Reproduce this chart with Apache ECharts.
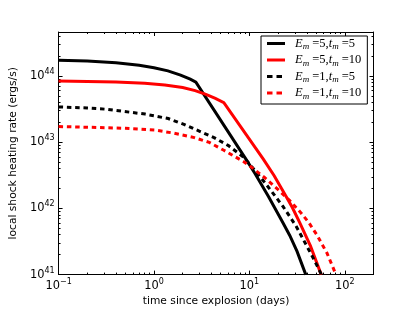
<!DOCTYPE html>
<html>
<head>
<meta charset="utf-8">
<script src="https://cdn.jsdelivr.net/npm/echarts@6/dist/echarts.min.js"></script>
<style>
html,body{margin:0;padding:0;background:#fff;}
#chart{width:415px;height:312px;}
</style>
</head>
<body>
<div id="chart"></div>
<script>
// ---- data (time in days, rate in ergs/s) ----
const seriesNames = ['Em5_tm5', 'Em5_tm10', 'Em1_tm5', 'Em1_tm10'];
const legendParts = [['5', '5'], ['5', '10'], ['1', '5'], ['1', '10']];

const blackSolidT = [0.1, 0.2, 0.4, 0.7, 1.0, 1.4, 1.9, 2.4, 2.75, 9.38, 11.45, 15.85, 22.4, 26.5, 31.6, 39.0];
const blackSolidL = [1.72e44, 1.675e44, 1.58e44, 1.45e44, 1.33e44, 1.19e44, 1.03e44, 8.93e43, 8.07e43,
                     5.30e42, 3.36e42, 1.51e42, 6.13e41, 3.90e41, 2.24e41, 1e41];

const redSolidT = [0.1, 0.4, 0.8, 1.3, 2.0, 2.7, 3.5, 4.4, 5.4, 13.94, 18.2, 24.2, 28.2, 33.6, 43.65, 56.6];
const redSolidL = [8.36e43, 8.09e43, 7.73e43, 7.28e43, 6.68e43, 6.0e43, 5.25e43, 4.57e43, 3.95e43,
                   5.60e42, 3.11e42, 1.52e42, 1.03e42, 6.13e41, 2.72e41, 1e41];

const blackDashT = [0.1, 0.2, 0.313, 0.808, 1.41, 2.09, 4.26, 6.03, 8.67, 10.24, 15.1, 22.4, 30.7, 39.6, 47.0, 57.0];
const blackDashL = [3.40e43, 3.28e43, 3.14e43, 2.65e43, 2.27e43, 1.84e43, 1.17e43, 8.87e42, 5.93e42,
                    4.52e42, 2.28e42, 1.08e42, 5.48e41, 2.77e41, 1.74e41, 1e41];

const redDashT = [0.1, 0.313, 0.5, 1.024, 1.6, 2.65, 3.8, 5.4, 8.67, 11.0, 14.5, 19.9, 26.5, 34.6, 42.2, 51.4, 65.0, 80.8];
const redDashL = [1.72e43, 1.65e43, 1.62e43, 1.52e43, 1.37e43, 1.17e43, 9.9e42, 7.53e42, 5.1e42, 3.98e42,
                  2.90e42, 1.93e42, 1.31e42, 8.62e41, 6.03e41, 3.90e41, 2.12e41, 1e41];

const xMajor = [0.1, 1, 10, 100];
const xMinor = [0.2,0.3,0.4,0.5,0.6,0.7,0.8,0.9, 2,3,4,5,6,7,8,9, 20,30,40,50,60,70,80,90];
const yMajor = [1e41, 1e42, 1e43, 1e44];
const yMinor = [2e41,3e41,4e41,5e41,6e41,7e41,8e41,9e41, 2e42,3e42,4e42,5e42,6e42,7e42,8e42,9e42,
                2e43,3e43,4e43,5e43,6e43,7e43,8e43,9e43, 2e44,3e44,4e44];
const xRange = [0.1, 200];
const yRange = [1e41, 4.6e44];

function pairs(t, l) { return t.map((v, i) => [v, l[i]]); }

const sansFont = '"DejaVu Sans", sans-serif';
const serifFont = '"Liberation Serif", "DejaVu Serif", serif';

const powRich = {
  b: { fontFamily: sansFont, fontSize: 11.4, color: '#000', lineHeight: 16, verticalAlign: 'middle' },
  s: { fontFamily: sansFont, fontSize: 8, color: '#000', lineHeight: 16, verticalAlign: 'top' }
};
function powFmt(v) {
  const e = Math.round(Math.log10(v));
  return '{b|10}{s|' + (e < 0 ? '\u2212' + (-e) : e) + '}';
}

function mkX(pos, ticks, len, showLine, labels) {
  return {
    type: 'log', logBase: 10, position: pos, min: xRange[0], max: xRange[1],
    gridIndex: 0,
    axisLine: { show: showLine, onZero: false, lineStyle: { color: '#000', width: 1 } },
    axisTick: { show: true, inside: true, length: len, customValues: ticks, lineStyle: { color: '#000', width: 1 } },
    axisLabel: labels ? { show: true, customValues: xMajor, formatter: powFmt, rich: powRich, margin: 3 } : { show: false },
    splitLine: { show: false }, minorTick: { show: false }, minorSplitLine: { show: false }
  };
}
function mkY(pos, ticks, len, showLine, labels) {
  return {
    type: 'log', logBase: 10, position: pos, min: yRange[0], max: yRange[1],
    gridIndex: 0,
    axisLine: { show: showLine, onZero: false, lineStyle: { color: '#000', width: 1 } },
    axisTick: { show: true, inside: true, length: len, customValues: ticks, lineStyle: { color: '#000', width: 1 } },
    axisLabel: labels ? { show: true, customValues: yMajor, formatter: powFmt, rich: powRich, margin: 4 } : { show: false },
    splitLine: { show: false }, minorTick: { show: false }, minorSplitLine: { show: false }
  };
}

const xAxes = [
  mkX('bottom', xMajor, 4, true, true),
  mkX('bottom', xMinor, 2, false, false),
  mkX('top', xMajor, 4, true, false),
  mkX('top', xMinor, 2, false, false)
];
xAxes[0].name = 'time since explosion (days)';
xAxes[0].nameLocation = 'middle';
xAxes[0].nameGap = 18;
xAxes[0].nameTextStyle = { fontFamily: sansFont, fontSize: 10.7, color: '#000' };

const yAxes = [
  mkY('left', yMajor, 4, true, true),
  mkY('left', yMinor, 2, false, false),
  mkY('right', yMajor, 4, true, false),
  mkY('right', yMinor, 2, false, false)
];
yAxes[0].name = 'local shock heating rate (ergs/s)';
yAxes[0].nameLocation = 'middle';
yAxes[0].nameGap = 33;
yAxes[0].nameTextStyle = { fontFamily: sansFont, fontSize: 10.7, color: '#000' };

const dash = [4.5, 3.8];
function mkSeries(name, data, color, type) {
  return {
    name: name, type: 'line', data: data, xAxisIndex: 0, yAxisIndex: 0,
    showSymbol: false, symbol: 'none', clip: true, smooth: false,
    lineStyle: { color: color, width: 3, type: type, cap: 'butt', join: 'miter' },
    itemStyle: { color: color },
    emphasis: { disabled: true }
  };
}

const solidIcon = 'path://M0,0H18V3H0Z';
const dashIcon = 'path://M0,0H5.5V3H0Z M9.5,0H15V3H9.5Z M18,0L18,3';

const legendRich = {
  i0: { fontFamily: serifFont, fontStyle: 'italic', fontSize: 12.5, color: '#000', lineHeight: 16, verticalAlign: 'middle', padding: [0, 0, 0, 5] },
  i: { fontFamily: serifFont, fontStyle: 'italic', fontSize: 12.5, color: '#000', lineHeight: 16, verticalAlign: 'middle' },
  sub: { fontFamily: serifFont, fontStyle: 'italic', fontSize: 9, color: '#000', lineHeight: 16, verticalAlign: 'bottom' },
  r: { fontFamily: serifFont, fontSize: 12.5, color: '#000', lineHeight: 16, verticalAlign: 'middle' }
};

const chart = echarts.init(document.getElementById('chart'), null, { renderer: 'canvas' });
chart.setOption({
  animation: false,
  backgroundColor: '#fff',
  grid: { left: 52, right: 41.5, top: 32, bottom: 32, containLabel: false },
  xAxis: xAxes,
  yAxis: yAxes,
  legend: {
    orient: 'vertical', left: 261, top: 36,
    padding: [1, 6, 3, 6], itemGap: 2, itemWidth: 18, itemHeight: 14,
    symbolKeepAspect: true,
    borderColor: '#000', borderWidth: 1, backgroundColor: '#fff', borderRadius: 0,
    data: [
      { name: seriesNames[0], icon: solidIcon },
      { name: seriesNames[1], icon: solidIcon },
      { name: seriesNames[2], icon: dashIcon },
      { name: seriesNames[3], icon: dashIcon }
    ],
    selectedMode: false,
    formatter: function (name) {
      const p = legendParts[seriesNames.indexOf(name)];
      return '{i0|E}{sub|m}{r| =' + p[0] + ',}{i|t}{sub|m}{r| =' + p[1] + '}';
    },
    textStyle: { rich: legendRich }
  },
  series: [
    mkSeries(seriesNames[0], pairs(blackSolidT, blackSolidL), '#000000', 'solid'),
    mkSeries(seriesNames[1], pairs(redSolidT, redSolidL), '#ff0000', 'solid'),
    mkSeries(seriesNames[2], pairs(blackDashT, blackDashL), '#000000', dash),
    mkSeries(seriesNames[3], pairs(redDashT, redDashL), '#ff0000', dash)
  ]
});
</script>
</body>
</html>
